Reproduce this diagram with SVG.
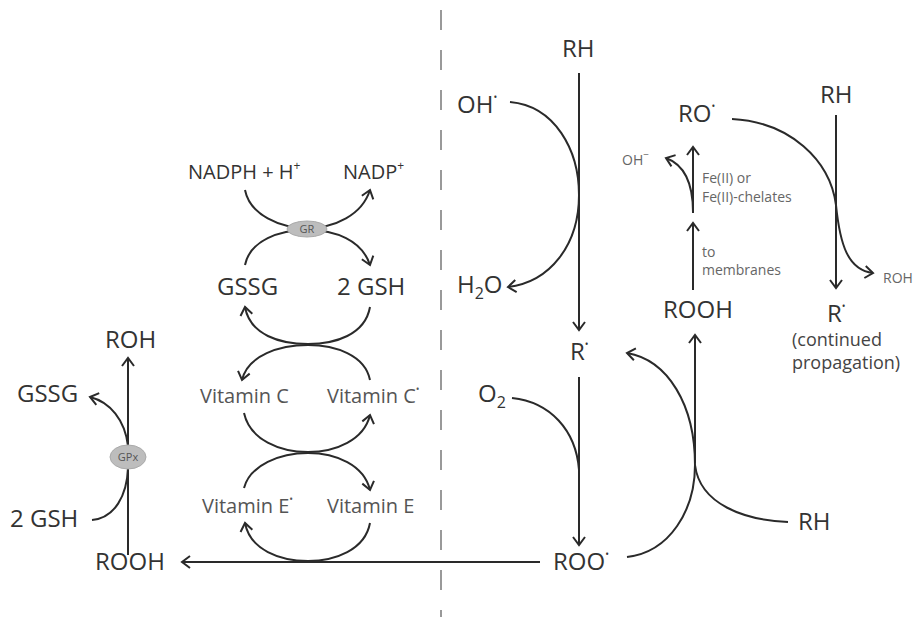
<svg xmlns="http://www.w3.org/2000/svg" width="921" height="617" viewBox="0 0 921 617">
<style>
text{font-family:"Open Sans","Noto Sans","DejaVu Sans",sans-serif;fill:#333}
.l{font-size:24px}
.m{font-size:20px}
.v{font-size:20px;fill:#555}
.s{font-size:14px;fill:#666}
.p{font-size:18px;fill:#444}
.e{font-size:11px;fill:#555}
.c{fill:none;stroke:#2a2a2a;stroke-width:2}
.a{marker-end:url(#ah)}
.enz{fill:#bdbdbd;stroke:#aaa;stroke-width:1}
</style>
<defs>
<marker id="ah" viewBox="-10 -8 12 16" markerWidth="12" markerHeight="16" refX="0" refY="0" orient="auto" markerUnits="userSpaceOnUse">
<path d="M-8,-6 L0,0 L-8,6" fill="none" stroke="#2a2a2a" stroke-width="2"/>
</marker>
</defs>
<rect width="921" height="617" fill="#fff"/>
<line x1="441" y1="10" x2="441" y2="617" stroke="#999" stroke-width="2" stroke-dasharray="20 20"/>
<g id="connectors">
<path class="c a" d="M245,190 C250,215 280,228 307,228 C335,228 362,215 370,190"/>
<path class="c a" d="M245,265 C250,240 280,230 307,230 C335,230 362,240 370,265"/>
<path class="c a" d="M370,307 C365,335 335,344 308,344 C280,344 250,335 245,307"/>
<path class="c a" d="M370,380 C365,355 335,345 308,345 C280,345 248,355 242,380"/>
<path class="c a" d="M244,413 C250,440 280,452 308,452 C336,452 364,440 370,415"/>
<path class="c a" d="M244,488 C250,465 280,453 308,453 C336,453 364,465 370,490"/>
<path class="c a" d="M370,523 C365,550 335,561 308,561 C280,561 250,550 245,523"/>
<path class="c a" d="M540,562 L182,562"/>
<path class="c a" d="M128,555 L128,358"/>
<path class="c a" d="M128,446 C125,420 110,402 90,397"/>
<path class="c" d="M92,520 C115,518 127,495 128,468"/>
<path class="c a" d="M579,73 L579,330"/>
<path class="c a" d="M510,102 C555,106 579,150 579,195 C579,245 550,282 508,287"/>
<path class="c a" d="M579,377 L579,545"/>
<path class="c" d="M512,398 C550,402 576,430 579,470"/>
<path class="c a" d="M627,557 C670,552 695,510 695,465 C695,405 668,360 627,353"/>
<path class="c a" d="M695,463 L695,335"/>
<path class="c" d="M788,522 C745,520 700,505 695,465"/>
<path class="c a" d="M836,115 L836,288"/>
<path class="c a" d="M732,119 C790,122 830,160 836,205 C840,245 848,270 873,273"/>
<path class="c a" d="M693,290 L693,223"/>
<path class="c a" d="M693,213 L693,147"/>
<path class="c a" d="M693,212 C693,185 685,165 666,158"/>
</g>
<g id="GR"><ellipse class="enz" cx="307" cy="229" rx="20" ry="8"/><text class="e" x="307" y="233" text-anchor="middle">GR</text></g>
<g id="GPx"><ellipse class="enz" cx="128" cy="457" rx="18" ry="12"/><text class="e" x="128" y="461" text-anchor="middle">GPx</text></g>
<g id="nadph"><text class="m" x="188" y="179">NADPH + H<tspan font-size="12" dy="-9">+</tspan></text></g>
<g id="nadp"><text class="m" x="343" y="179">NADP<tspan font-size="12" dy="-9">+</tspan></text></g>
<g id="gssg-top"><text class="l" x="217" y="295">GSSG</text></g>
<g id="gsh-top"><text class="l" x="337" y="295">2 GSH</text></g>
<g id="vitc"><text class="v" x="200" y="403">Vitamin C</text></g>
<g id="vitc-rad"><text class="v" x="327" y="403">Vitamin C<tspan font-size="10" dy="-10">•</tspan></text></g>
<g id="vite-rad"><text class="v" x="202" y="513">Vitamin E<tspan font-size="10" dy="-10">•</tspan></text></g>
<g id="vite"><text class="v" x="327" y="513">Vitamin E</text></g>
<g id="roh-left"><text class="l" x="105" y="348">ROH</text></g>
<g id="gssg-left"><text class="l" x="17" y="402">GSSG</text></g>
<g id="gsh-left"><text class="l" x="10" y="527">2 GSH</text></g>
<g id="rooh-left"><text class="l" x="95" y="570">ROOH</text></g>
<g id="rh-top"><text class="l" x="562" y="57">RH</text></g>
<g id="oh-rad"><text class="l" x="457" y="113">OH<tspan font-size="10" dy="-12">•</tspan></text></g>
<g id="h2o"><text class="l" x="457" y="293">H<tspan font-size="16" dy="6">2</tspan><tspan dy="-6">O</tspan></text></g>
<g id="r-rad"><text class="l" x="570" y="360">R<tspan font-size="10" dy="-12">•</tspan></text></g>
<g id="o2"><text class="l" x="478" y="402">O<tspan font-size="16" dy="6">2</tspan></text></g>
<g id="roo-rad"><text class="l" x="553" y="570">ROO<tspan font-size="10" dy="-12">•</tspan></text></g>
<g id="ro-rad"><text class="l" x="678" y="122">RO<tspan font-size="10" dy="-12">•</tspan></text></g>
<g id="rh-right"><text class="l" x="820" y="103">RH</text></g>
<g id="oh-minus"><text class="s" x="622" y="165">OH<tspan font-size="10" dy="-7">−</tspan></text></g>
<g id="fe-label"><text class="s" x="702" y="183">Fe(II) or</text><text class="s" x="702" y="202">Fe(II)-chelates</text></g>
<g id="membranes-label"><text class="s" x="702" y="257">to</text><text class="s" x="702" y="275">membranes</text></g>
<g id="rooh-right"><text class="l" x="663" y="318">ROOH</text></g>
<g id="r-rad-right"><text class="l" x="827" y="322">R<tspan font-size="10" dy="-12">•</tspan></text></g>
<g id="continued"><text class="p" x="792" y="346">(continued</text><text class="p" x="792" y="369">propagation)</text></g>
<g id="roh-small"><text class="s" x="883" y="283">ROH</text></g>
<g id="rh-bottom"><text class="l" x="798" y="530">RH</text></g>
</svg>
